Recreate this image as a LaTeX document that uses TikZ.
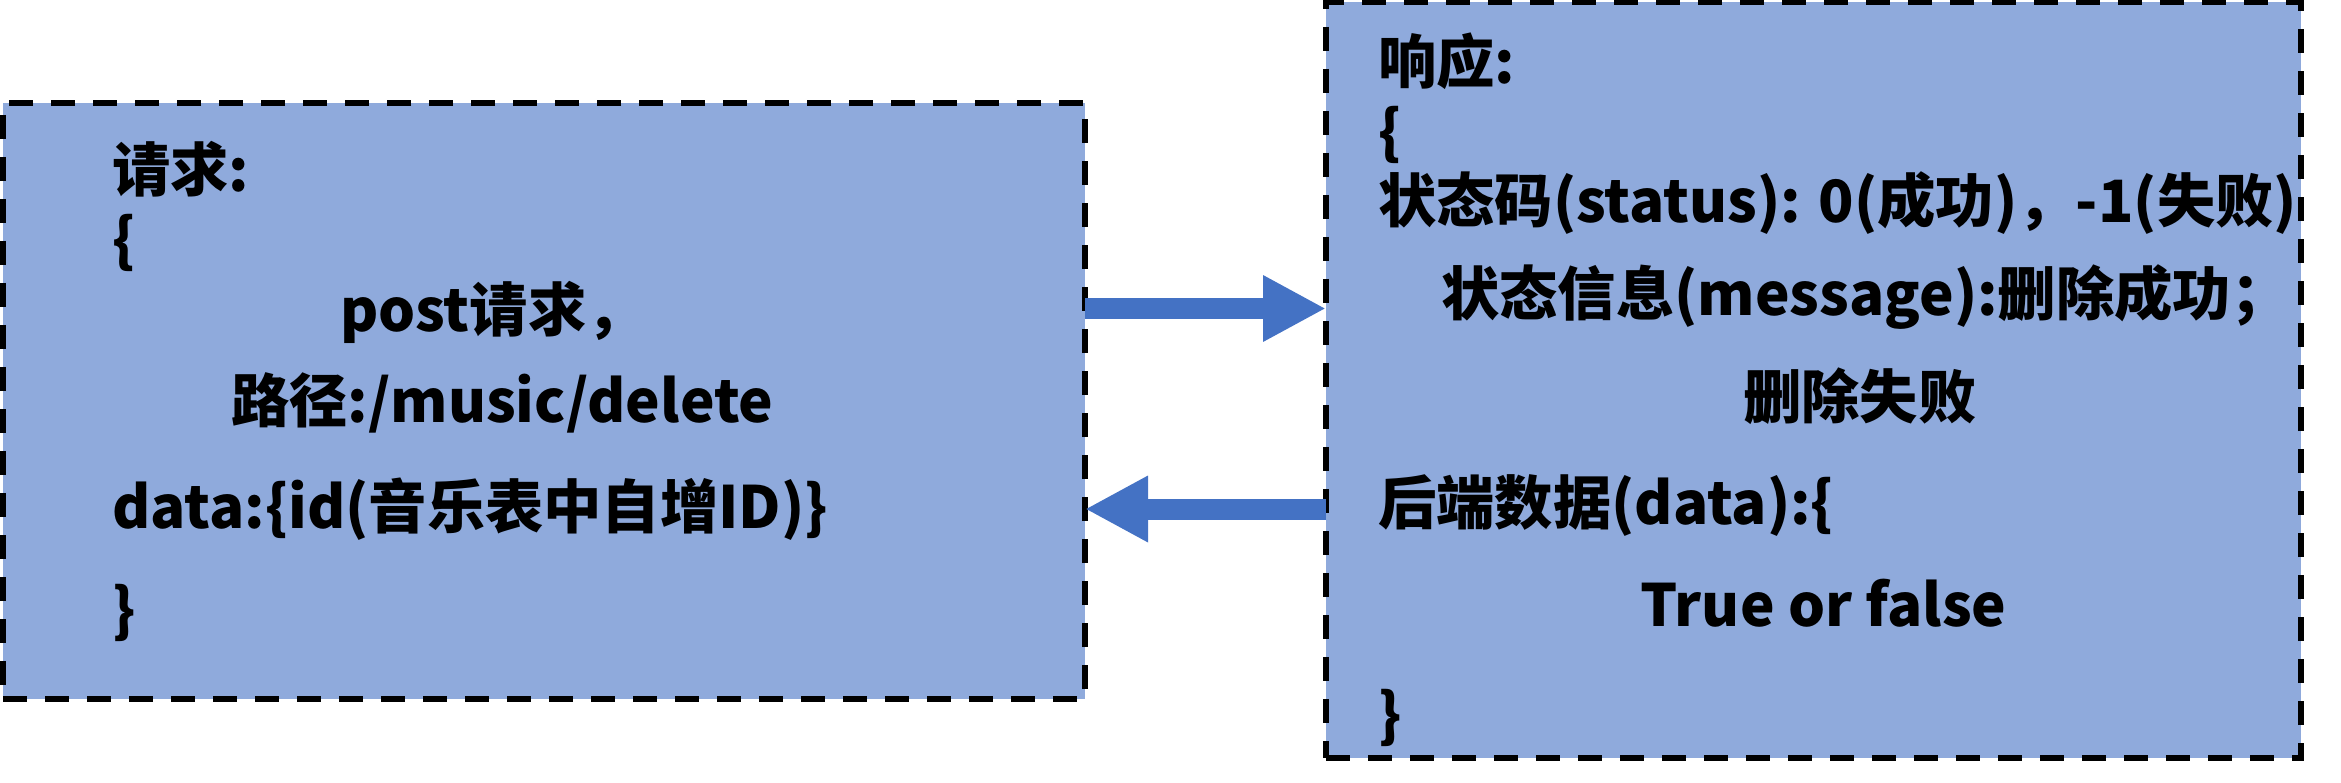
\documentclass[tikz,border=0pt]{standalone}
\usepackage{fontspec}
\setmainfont{Noto Sans CJK SC Black}
\usetikzlibrary{arrows.meta}
\definecolor{boxfill}{HTML}{8FAADC}
\definecolor{arrowblue}{HTML}{4472C4}
\begin{document}
\begin{tikzpicture}[x=1pt,y=-1pt,
  boxstyle/.style={draw=black, fill=boxfill, line width=6pt, dash pattern=on 24pt off 18pt, inner sep=0pt, outer sep=0pt},
  txt/.style={anchor=base west, inner sep=0pt, font=\fontsize{58.3}{61}\selectfont},
  blockarrow/.style={draw=arrowblue, line width=21pt, -{Triangle[length=63pt,width=62pt]}}]
\useasboundingbox (0,0) rectangle (2341,783);
\node[boxstyle, minimum width=1082pt, minimum height=596pt] (req) at (544,401) {};
\node[boxstyle, minimum width=975pt, minimum height=755.5pt] (resp) at (1813.5,380.25) {};
% left texts
\node[txt] (l1) at (112,192) {请求:};
\node[txt] (l2) at (112,262) {\{};
\node[txt] (l3) at (340,332) {post请求，};
\node[txt] (l4) at (231,422) {路径:/music/delete};
\node[txt] (l5) at (112,528) {data:\{id(音乐表中自增ID)\}};
\node[txt] (l6) at (112,631) {\}};
% right texts
\node[txt] (r1) at (1378,84) {响应:};
\node[txt] (r2) at (1378,154) {\{};
\node[txt] (r3) at (1378,223) {状态码(status): 0(成功)，-1(失败)};
\node[txt] (r4) at (1441,316) {状态信息(message):删除成功；};
\node[txt] (r5) at (1743,418) {删除失败};
\node[txt] (r6) at (1378,524) {后端数据(data):\{};
\node[txt] (r7) at (1640,626) {True or false};
\node[txt] (r8) at (1378,736) {\}};
% arrows
\coordinate (ya) at (0,308.5);
\coordinate (yb) at (0,509);
\draw[blockarrow] (req.east |- ya) -- (resp.west |- ya);
\draw[blockarrow] (resp.west |- yb) -- (req.east |- yb);
\end{tikzpicture}
\end{document}
